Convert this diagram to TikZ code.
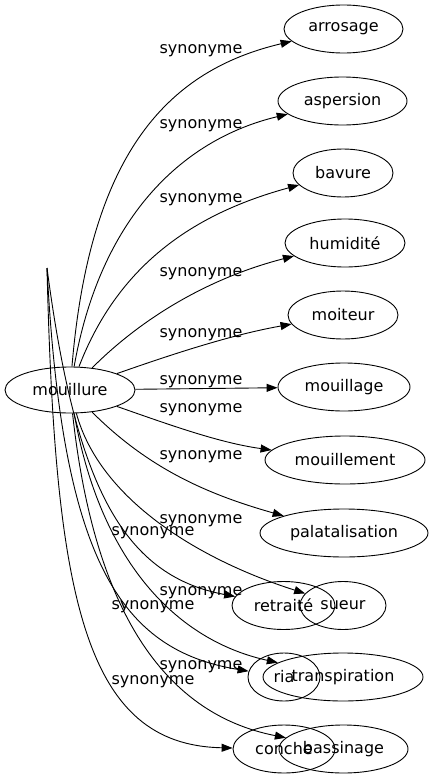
\documentclass[tikz,border=0pt]{standalone}
\usepackage{fontspec}
\setmainfont{DejaVu Sans}
\usetikzlibrary{arrows.meta,shapes.geometric}
\begin{document}
\begin{tikzpicture}[x=1pt,y=-1pt,
  every node/.style={font=\fontsize{16}{19}\selectfont},
  word/.style={draw, ellipse, line width=0.9pt, inner sep=0pt, minimum height=48pt},
  lbl/.style={anchor=base, inner sep=0pt},
  edge/.style={line width=0.9pt, -{Triangle[length=11pt,width=8pt]}}]
\useasboundingbox (0,0) rectangle (432,779);
% nodes
\node[word, minimum width=130pt, minimum height=46pt] (m) at (70,390) {mouillure};
\node[word, minimum width=119pt] (arrosage) at (343.5,29) {arrosage};
\node[word, minimum width=129pt] (aspersion) at (342.5,101) {aspersion};
\node[word, minimum width=100pt] (bavure) at (343,173) {bavure};
\node[word, minimum width=120pt] (humidite) at (345,243) {humidité};
\node[word, minimum width=110pt] (moiteur) at (343,315) {moiteur};
\node[word, minimum width=132pt] (mouillage) at (344,387) {mouillage};
\node[word, minimum width=160pt] (mouillement) at (345,460) {mouillement};
\node[word, minimum width=168pt] (palatalisation) at (344,533) {palatalisation};
\node[word, minimum width=103pt] (retraite) at (283.5,605.5) {retraité};
\node[word, minimum width=86pt] (sueur) at (343,605.5) {sueur};
\node[word, minimum width=72pt] (ria) at (284,677) {ria};
\node[word, minimum width=160pt] (transpiration) at (343,677) {transpiration};
\node[word, minimum width=102pt] (conche) at (284,749) {conche};
\node[word, minimum width=129pt] (bassinage) at (343.5,749) {bassinage};
\coordinate (P) at (47,268);
% edges
\draw[edge] (m) .. controls (90,150) and (170,70) .. (arrosage);
\draw[edge] (m) .. controls (100,220) and (180,140) .. (aspersion);
\draw[edge] (m) .. controls (120,260) and (200,212) .. (bavure);
\draw[edge] (m) .. controls (150,310) and (220,275) .. (humidite);
\draw[edge] (m) .. controls (170,355) and (230,335) .. (moiteur);
\draw[edge] (m) -- (mouillage);
\draw[edge] (m) .. controls (170,425) and (220,443) .. (mouillement);
\draw[edge] (m) .. controls (150,470) and (210,495) .. (palatalisation);
\draw[edge] (m) .. controls (100,500) and (200,560) .. (sueur);
\draw[edge] (m) .. controls (100,560) and (175,640) .. (transpiration);
\draw[edge] (m) .. controls (95,620) and (170,715) .. (bassinage);
\draw[edge] (P) .. controls (75,480) and (120,575) .. (retraite);
\draw[edge] (P) .. controls (62,560) and (120,650) .. (ria);
\draw[edge] (P) .. controls (55,600) and (85,745) .. (conche);
% labels
\node[lbl] (l1) at (201,53) {synonyme};
\node[lbl] (l2) at (201,128) {synonyme};
\node[lbl] (l3) at (201,202) {synonyme};
\node[lbl] (l4) at (201,276) {synonyme};
\node[lbl] (l5) at (201,337) {synonyme};
\node[lbl] (l6) at (201,384) {synonyme};
\node[lbl] (l7) at (201,412) {synonyme};
\node[lbl] (l8) at (201,459) {synonyme};
\node[lbl] (l9) at (201,523) {synonyme};
\node[lbl] (l10) at (201,595) {synonyme};
\node[lbl] (l11) at (201,669) {synonyme};
\node[lbl] (l12) at (153,535) {synonyme};
\node[lbl] (l13) at (153,609) {synonyme};
\node[lbl] (l14) at (153,684) {synonyme};
\end{tikzpicture}
\end{document}
